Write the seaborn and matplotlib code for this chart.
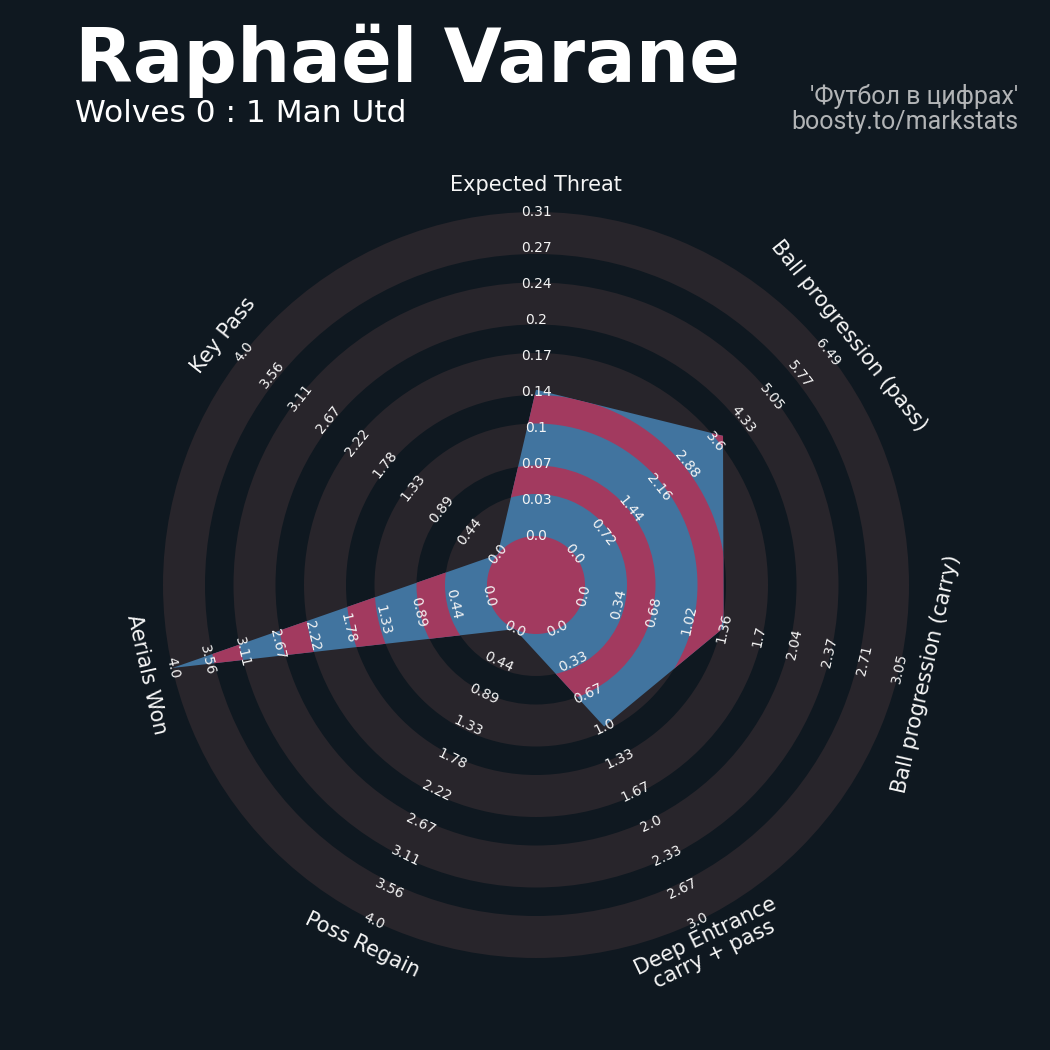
"""Radar chart for Raphaël Varane (Wolves 0 : 1 Man Utd), pizza/radar style."""

import numpy as np
import matplotlib

matplotlib.use("Agg")
import matplotlib.pyplot as plt
from matplotlib.patches import Polygon, Wedge, Circle
import seaborn as sns

# ---- data -----------------------------------------------------------------
PLAYER = "Raphaël Varane"
MATCH = "Wolves 0 : 1 Man Utd"
CREDIT = ["'Футбол в цифрах'", "boosty.to/markstats"]

PARAMS = [
    "Expected Threat",
    "Ball progression (pass)",
    "Ball progression (carry)",
    "Deep Entrance\ncarry + pass",
    "Poss Regain",
    "Aerials Won",
    "Key Pass",
]
VALUES = [0.14, 3.81, 1.35, 1.0, 0.0, 4.0, 0.0]

XT_TICKS = ["0.0", "0.03", "0.07", "0.1", "0.14", "0.17", "0.2", "0.24", "0.27", "0.31"]
PASS_TICKS = ["0.0", "0.72", "1.44", "2.16", "2.88", "3.6", "4.33", "5.05", "5.77", "6.49"]
CARRY_TICKS = ["0.0", "0.34", "0.68", "1.02", "1.36", "1.7", "2.04", "2.37", "2.71", "3.05"]
DEEP_TICKS = ["0.0", "0.33", "0.67", "1.0", "1.33", "1.67", "2.0", "2.33", "2.67", "3.0"]
REGAIN_TICKS = ["0.0", "0.44", "0.89", "1.33", "1.78", "2.22", "2.67", "3.11", "3.56", "4.0"]
AERIAL_TICKS = ["0.0", "0.44", "0.89", "1.33", "1.78", "2.22", "2.67", "3.11", "3.56", "4.0"]
KEYPASS_TICKS = ["0.0", "0.44", "0.89", "1.33", "1.78", "2.22", "2.67", "3.11", "3.56", "4.0"]
TICKS = [XT_TICKS, PASS_TICKS, CARRY_TICKS, DEEP_TICKS, REGAIN_TICKS, AERIAL_TICKS, KEYPASS_TICKS]

# ---- style / geometry (pixel units, y pointing down) ----------------------
BG = "#0f1820"
RING = "#28252b"
BLUE, PINK = sns.color_palette(["#41749f", "#a23a5f"])
TEXT = "#f5f5f5"
CREDIT_COLOR = "#b2b4b6"

CX, CY = 536, 585
R_IN, R_OUT = 49, 373
GRAY_W, GAP_W = 42, 28.5


def polar(r, theta_deg):
    t = np.deg2rad(theta_deg)
    return CX + r * np.cos(t), CY - r * np.sin(t)


def text_rotation(theta_deg):
    rot = theta_deg - 90
    rot = (rot + 180) % 360 - 180
    if rot < -90 or rot > 90:
        rot = (rot + 360) % 360 - 180
    return rot


def main() -> None:
    sns.set_theme(style="dark", rc={"axes.facecolor": BG, "figure.facecolor": BG})
    plt.rcParams["font.family"] = ["DejaVu Sans"]

    fig = plt.figure(figsize=(10.5, 10.5), dpi=100)
    ax = fig.add_axes([0, 0, 1, 1])
    ax.set_xlim(0, 1050)
    ax.set_ylim(1050, 0)
    ax.set_aspect("equal")
    ax.axis("off")

    n = len(PARAMS)
    angles = [90 - i * 360 / n for i in range(n)]

    # background rings
    gray_edges, gap_edges = [], []
    r = R_IN
    for k in range(5):
        gray_edges.append((r, r + GRAY_W))
        r += GRAY_W
        if k < 4:
            gap_edges.append((r, r + GAP_W))
            r += GAP_W
    for r0, r1 in gray_edges:
        ax.add_patch(Wedge((CX, CY), r1, 0, 360, width=r1 - r0,
                           facecolor=RING, edgecolor="none", zorder=1))

    # radar polygon
    vmax = [float(t[-1]) for t in TICKS]
    radii = [R_IN + v / m * (R_OUT - R_IN) for v, m in zip(VALUES, vmax)]
    verts = [polar(rr, a) for rr, a in zip(radii, angles)]
    poly = Polygon(verts, closed=True, facecolor=BLUE, edgecolor="none", zorder=2)
    ax.add_patch(poly)
    for r0, r1 in gap_edges:
        w = Wedge((CX, CY), r1, 0, 360, width=r1 - r0,
                  facecolor=PINK, edgecolor="none", zorder=3)
        ax.add_patch(w)
        w.set_clip_path(poly)
    ax.add_patch(Circle((CX, CY), R_IN, facecolor=PINK, edgecolor="none", zorder=3))

    # range labels
    step = (R_OUT - R_IN) / 9
    for a, ticks in zip(angles, TICKS):
        rot = text_rotation(a)
        for k, lab in enumerate(ticks):
            x, y = polar(R_IN + k * step, a)
            ax.text(x, y, lab, color=TEXT, fontsize=10, rotation=rot,
                    ha="center", va="center", rotation_mode="anchor", zorder=5)

    # parameter labels
    for a, p in zip(angles, PARAMS):
        x, y = polar(400, a)
        ax.text(x, y, p, color=TEXT, fontsize=15, rotation=text_rotation(a),
                ha="center", va="center", rotation_mode="anchor",
                multialignment="center", linespacing=1.0, zorder=5)

    # titles
    ax.text(75, 82, PLAYER, color="white", fontsize=54, fontweight="bold",
            ha="left", va="baseline")
    ax.text(75, 122, MATCH, color="white", fontsize=22.5, ha="left", va="baseline")
    ax.text(1018, 104, CREDIT[0], color=CREDIT_COLOR, fontsize=18,
            family=["Roboto", "DejaVu Sans"], ha="right", va="baseline")
    ax.text(1018, 129, CREDIT[1], color=CREDIT_COLOR, fontsize=18,
            family=["Roboto", "DejaVu Sans"], ha="right", va="baseline")

    fig.savefig("out.png", dpi=100, facecolor=BG)


if __name__ == "__main__":
    main()
